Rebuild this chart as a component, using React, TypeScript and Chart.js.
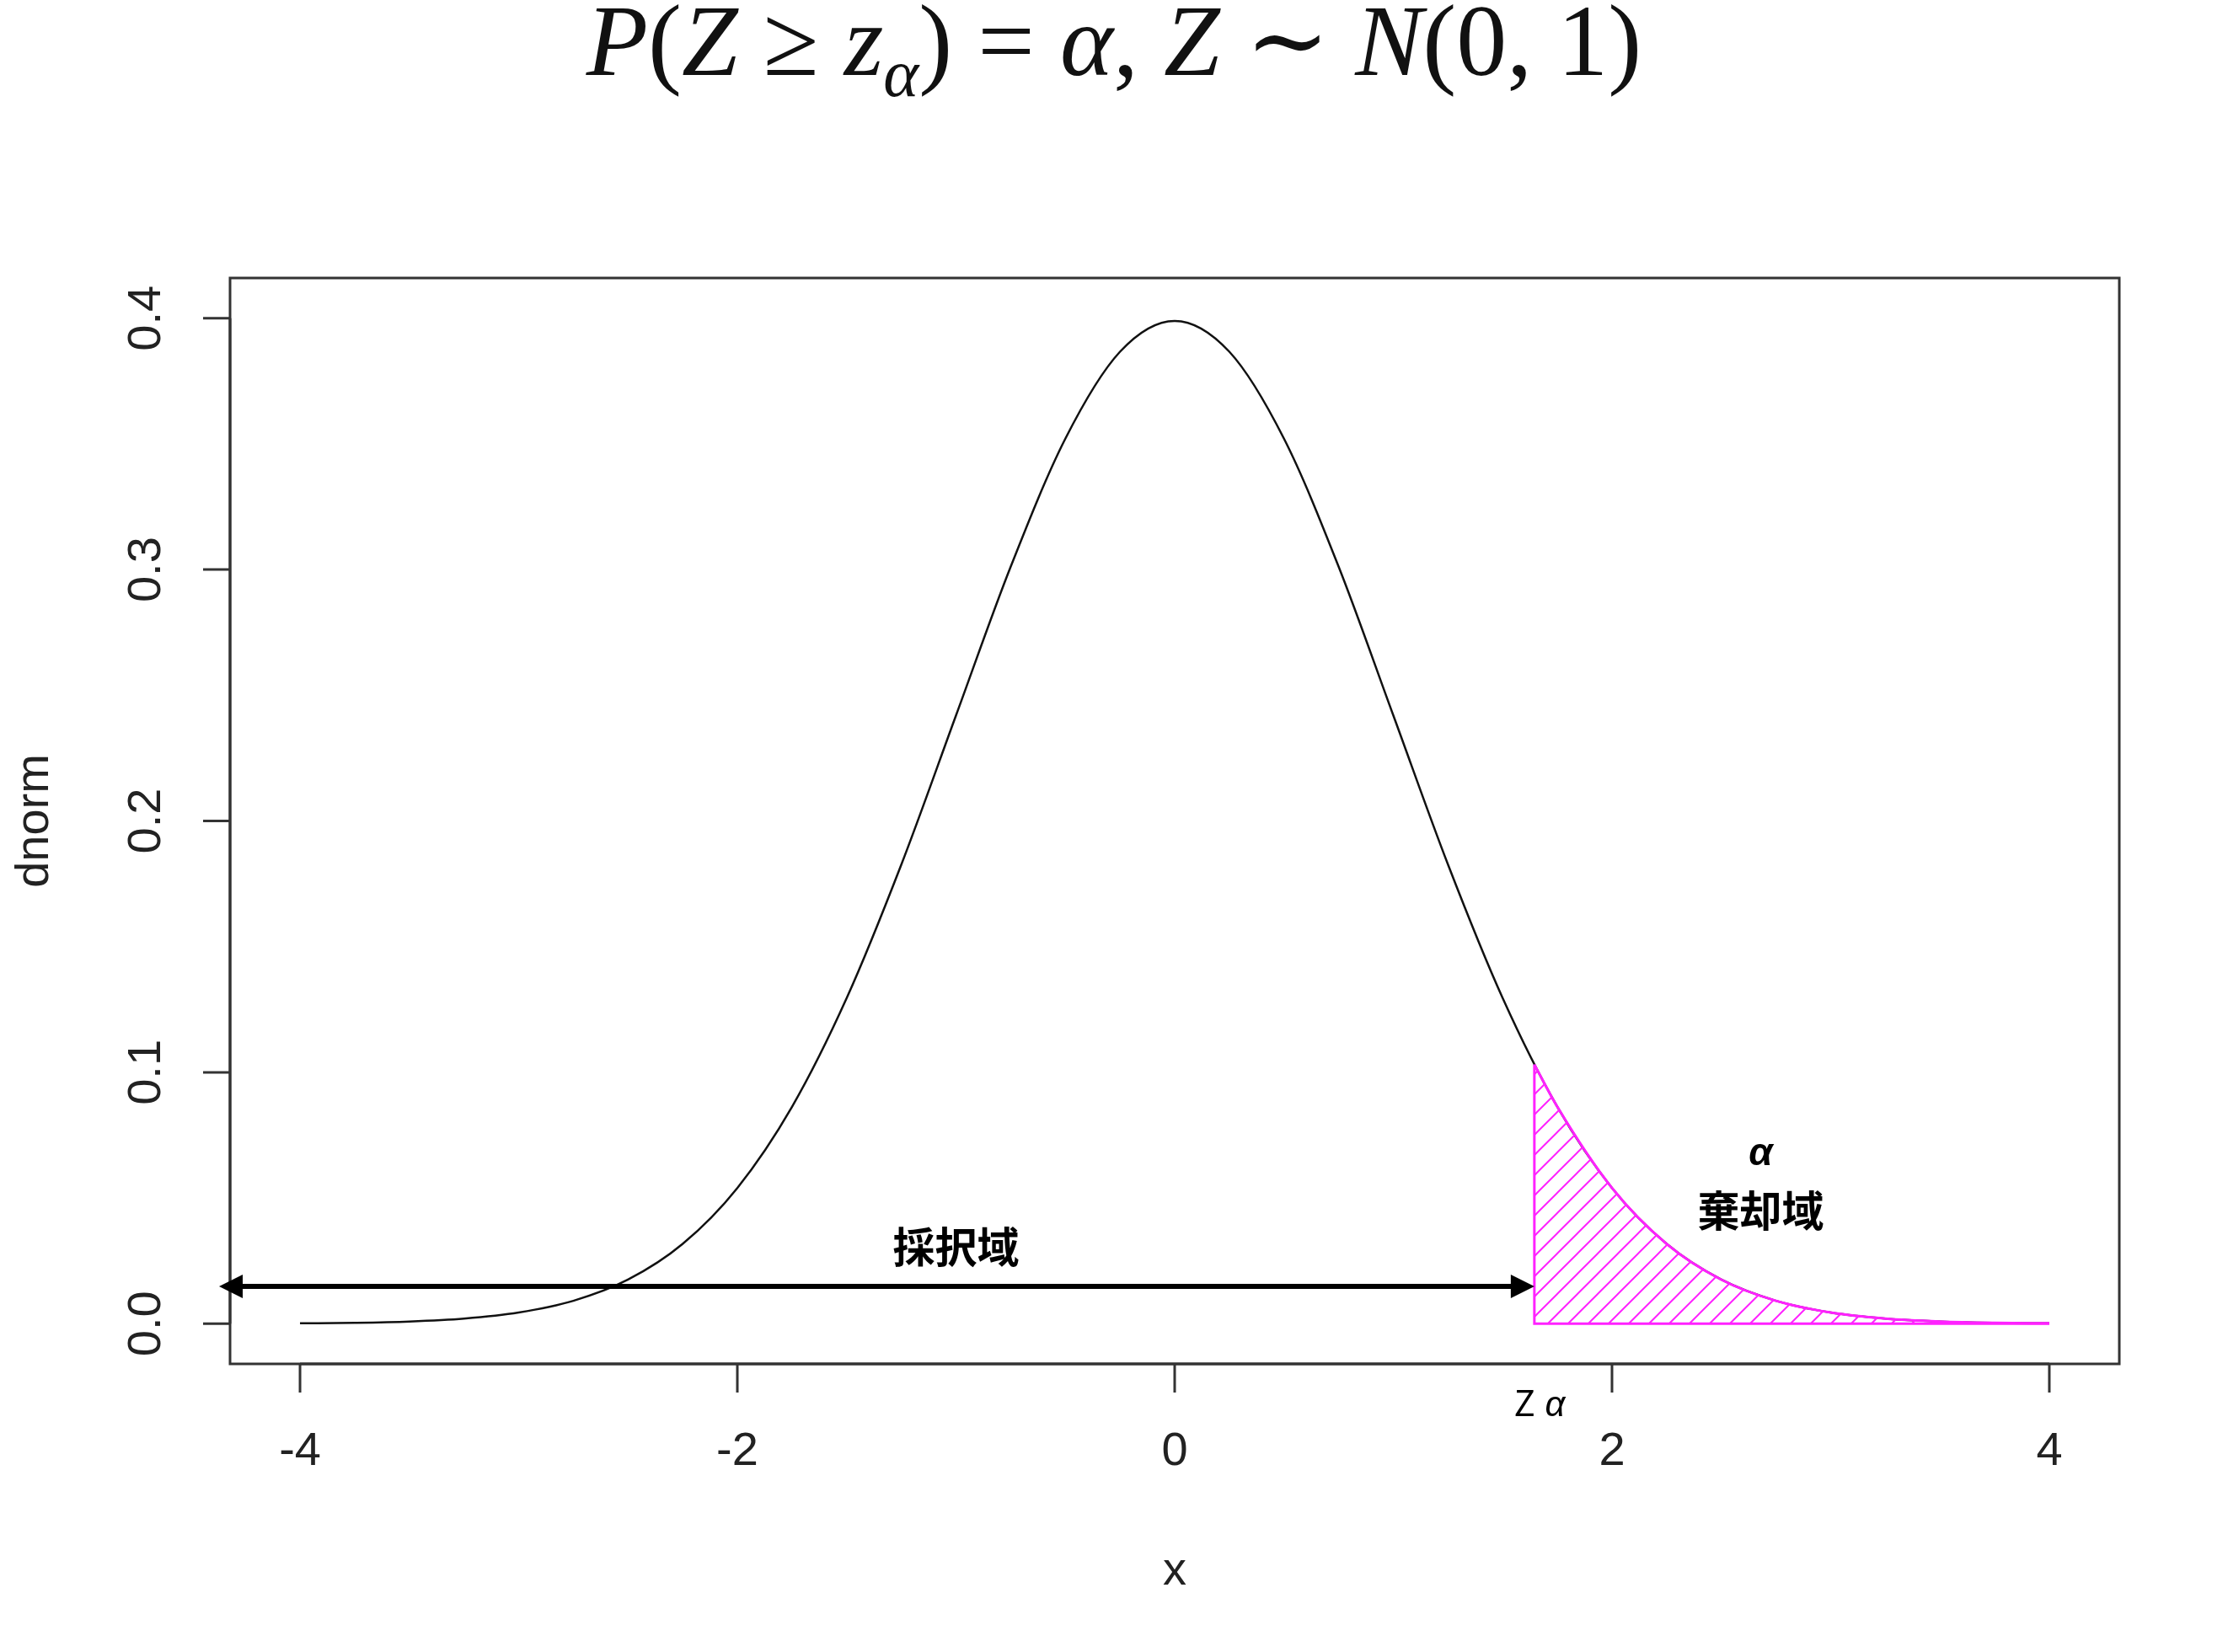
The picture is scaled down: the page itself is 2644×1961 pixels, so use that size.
import React, { useEffect, useRef } from "react";
import { Chart, registerables } from "chart.js";

Chart.register(...registerables);

// dnorm(x)
const curveX = [-4, -3.75, -3.5, -3.25, -3, -2.75, -2.5, -2.25, -2, -1.75, -1.5, -1.25, -1, -0.75, -0.5, -0.25, 0,
  0.25, 0.5, 0.75, 1, 1.25, 1.5, 1.75, 2, 2.25, 2.5, 2.75, 3, 3.25, 3.5, 3.75, 4];
const curveY = [0.000134, 0.000353, 0.000873, 0.002029, 0.004432, 0.009094, 0.017528, 0.03174, 0.053991, 0.086277,
  0.129518, 0.182649, 0.241971, 0.301137, 0.352065, 0.386668, 0.398942, 0.386668, 0.352065, 0.301137, 0.241971,
  0.182649, 0.129518, 0.086277, 0.053991, 0.03174, 0.017528, 0.009094, 0.004432, 0.002029, 0.000873, 0.000353, 0.000134];
const zAlpha = 1.645;
const tailX = [1.645, 1.75, 2, 2.25, 2.5, 2.75, 3, 3.25, 3.5, 3.75, 4];
const tailY = [0.1031, 0.086277, 0.053991, 0.03174, 0.017528, 0.009094, 0.004432, 0.002029, 0.000873, 0.000353, 0.000134];
const xTicks = [-4, -2, 0, 2, 4];
const yTicks = [0, 0.1, 0.2, 0.3, 0.4];
const arrowX = [-4.37, 1.645];
const arrowY = 0.0148;

const MAGENTA = "#ff22ff";
const SANS = "'Liberation Sans', Arial, sans-serif";
const CJK = "'Noto Sans CJK JP', sans-serif";

function makeHatch(): CanvasPattern | string {
  const s = 24;
  const c = document.createElement("canvas");
  c.width = s;
  c.height = s;
  const g = c.getContext("2d");
  if (!g) return MAGENTA;
  g.strokeStyle = MAGENTA;
  g.lineWidth = 2;
  g.beginPath();
  g.moveTo(-2, s + 2);
  g.lineTo(s + 2, -2);
  g.moveTo(-2, 2);
  g.lineTo(2, -2);
  g.moveTo(s - 2, s + 2);
  g.lineTo(s + 2, s - 2);
  g.stroke();
  return g.createPattern(c, "repeat") || MAGENTA;
}

const decor = {
  id: "decor",
  afterDatasetsDraw(chart: any) {
    const { ctx, chartArea: a, scales } = chart;
    const xs = scales.x, ys = scales.y;
    ctx.save();
    ctx.strokeStyle = "#333";
    ctx.lineWidth = 3;
    ctx.strokeRect(a.left, a.top, a.right - a.left, a.bottom - a.top);
    ctx.fillStyle = "#222";
    ctx.font = `56px ${SANS}`;
    ctx.textAlign = "center";
    ctx.textBaseline = "middle";
    ctx.beginPath();
    ctx.moveTo(xs.getPixelForValue(xTicks[0]), a.bottom);
    ctx.lineTo(xs.getPixelForValue(xTicks[xTicks.length - 1]), a.bottom);
    xTicks.forEach((t) => {
      const px = xs.getPixelForValue(t);
      ctx.moveTo(px, a.bottom);
      ctx.lineTo(px, a.bottom + 34);
      ctx.fillText(String(t), px, a.bottom + 105);
    });
    ctx.moveTo(a.left, ys.getPixelForValue(yTicks[0]));
    ctx.lineTo(a.left, ys.getPixelForValue(yTicks[yTicks.length - 1]));
    yTicks.forEach((t) => {
      const py = ys.getPixelForValue(t);
      ctx.moveTo(a.left, py);
      ctx.lineTo(a.left - 32, py);
      ctx.save();
      ctx.translate(a.left - 98, py);
      ctx.rotate(-Math.PI / 2);
      ctx.fillText(t.toFixed(1), 0, 0);
      ctx.restore();
    });
    ctx.stroke();
    ctx.fillText("x", xs.getPixelForValue(0), 1866);
    ctx.save();
    ctx.translate(42, ys.getPixelForValue(0.2));
    ctx.rotate(-Math.PI / 2);
    ctx.fillText("dnorm", 0, 0);
    ctx.restore();
    // double arrow
    const x1 = xs.getPixelForValue(arrowX[0]), x2 = xs.getPixelForValue(arrowX[1]);
    const ay = ys.getPixelForValue(arrowY);
    ctx.strokeStyle = "#000";
    ctx.fillStyle = "#000";
    ctx.lineWidth = 6;
    ctx.beginPath();
    ctx.moveTo(x1 + 20, ay);
    ctx.lineTo(x2 - 20, ay);
    ctx.stroke();
    [[x1, 1], [x2, -1]].forEach(([px, d]) => {
      ctx.beginPath();
      ctx.moveTo(px, ay);
      ctx.lineTo(px + d * 28, ay - 14);
      ctx.lineTo(px + d * 28, ay + 14);
      ctx.closePath();
      ctx.fill();
    });
    ctx.font = `bold 50px ${CJK}`;
    ctx.fillText("採択域", xs.getPixelForValue(-1.0), ys.getPixelForValue(0.0305));
    ctx.fillText("棄却域", xs.getPixelForValue(2.68), ys.getPixelForValue(0.045));
    ctx.font = `italic bold 46px ${SANS}`;
    ctx.fillText("α", xs.getPixelForValue(2.68), ys.getPixelForValue(0.0675));
    ctx.font = `42px ${CJK}`;
    ctx.fillText("Z", xs.getPixelForValue(1.6), a.bottom + 46);
    ctx.font = `italic 42px ${SANS}`;
    ctx.fillText("α", xs.getPixelForValue(1.74), a.bottom + 50);
    ctx.restore();
  },
};

export default function App() {
  const ref = useRef<HTMLCanvasElement>(null);
  useEffect(() => {
    const ctx = ref.current?.getContext("2d");
    if (!ctx) return;
    const hatch = makeHatch();
    const chart = new Chart(ctx, {
      type: "scatter",
      data: {
        datasets: [
          {
            data: curveX.map((x, i) => ({ x, y: curveY[i] })),
            showLine: true,
            borderColor: "#111",
            borderWidth: 2.5,
            pointRadius: 0,
            cubicInterpolationMode: "monotone",
            order: 3,
          },
          {
            data: tailX.map((x, i) => ({ x, y: tailY[i] })),
            showLine: true,
            borderColor: MAGENTA,
            borderWidth: 3,
            pointRadius: 0,
            cubicInterpolationMode: "monotone",
            fill: "origin",
            backgroundColor: hatch as any,
            order: 1,
          },
          {
            data: [
              { x: zAlpha, y: tailY[0] },
              { x: zAlpha, y: 0 },
              { x: tailX[tailX.length - 1], y: 0 },
            ],
            showLine: true,
            borderColor: MAGENTA,
            borderWidth: 3,
            pointRadius: 0,
            tension: 0,
            order: 0,
          },
        ],
      },
      options: {
        animation: false,
        responsive: false,
        devicePixelRatio: 1,
        layout: { padding: { left: 273, top: 330, right: 129, bottom: 342 } },
        plugins: { legend: { display: false }, tooltip: { enabled: false } },
        scales: {
          x: { type: "linear", min: -4.32, max: 4.32, display: false },
          y: { type: "linear", min: -0.016, max: 0.416, display: false },
        },
      },
      plugins: [decor],
    });
    return () => chart.destroy();
  }, []);

  const it = { fontStyle: "italic" } as React.CSSProperties;
  return (
    <div style={{ position: "fixed", left: 0, top: 0, width: 2644, height: 1961, background: "#fff" }}>
      <canvas ref={ref} width={2644} height={1961} style={{ position: "absolute", left: 0, top: 0 }} />
      <div
        style={{
          position: "absolute",
          left: 0,
          width: 2644,
          top: -22,
          textAlign: "center",
          fontFamily: "'Liberation Serif', 'DejaVu Serif', serif",
          fontSize: 120,
          color: "#111",
          whiteSpace: "nowrap",
        }}
      >
        <span style={it}>P</span>(<span style={it}>Z</span> ≥ <span style={it}>z</span>
        <sub style={{ ...it, fontSize: 80 }}>α</sub>) = <span style={it}>α</span>, <span style={it}>Z</span> ∼{" "}
        <span style={it}>N</span>(0, 1)
      </div>
    </div>
  );
}
